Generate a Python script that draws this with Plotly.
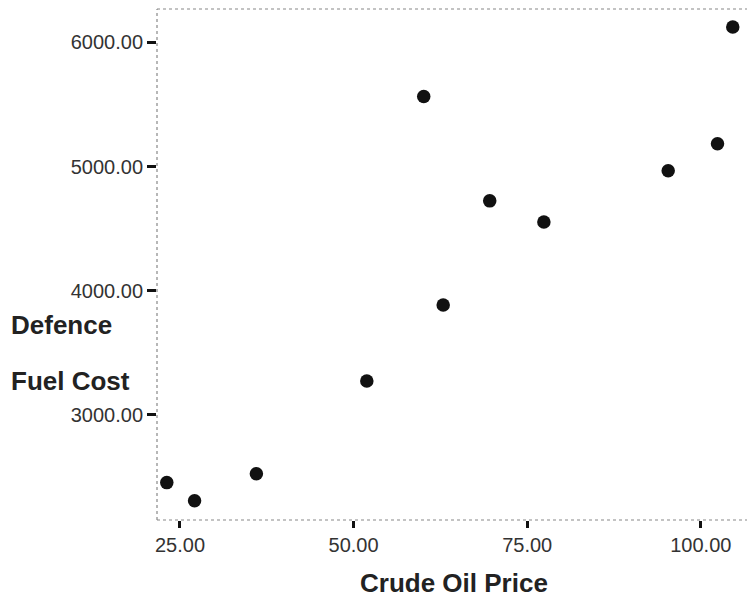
import plotly.graph_objects as go

crude_oil_price = [23.1, 27.1, 36.0, 51.9, 60.1, 62.9, 69.6, 77.4, 95.3, 102.4, 104.6]
defence_fuel_cost = [2455, 2309, 2527, 3274, 5565, 3886, 4724, 4553, 4966, 5184, 6124]

x_ticks = [25, 50, 75, 100]
x_tick_labels = ["25.00", "50.00", "75.00", "100.00"]
y_ticks = [3000, 4000, 5000, 6000]
y_tick_labels = ["3000.00", "4000.00", "5000.00", "6000.00"]

fig = go.Figure()
fig.add_trace(go.Scatter(
    x=crude_oil_price, y=defence_fuel_cost, mode="markers",
    marker=dict(size=13.5, color="#111111", line=dict(width=0)),
    showlegend=False, hoverinfo="x+y",
))

fig.update_layout(
    width=747, height=592,
    margin=dict(l=149, r=0, t=1, b=80),
    paper_bgcolor="white", plot_bgcolor="white",
    font=dict(family="Liberation Sans, Arial, sans-serif", color="#333333"),
    xaxis=dict(
        range=[21.69, 107.8], tickmode="array", tickvals=x_ticks, ticktext=x_tick_labels,
        ticks="outside", ticklen=7, tickwidth=3, tickcolor="#111111",
        tickfont=dict(size=20, color="#333333"),
        showgrid=False, zeroline=False, showline=False,
    ),
    yaxis=dict(
        range=[2154, 6269], tickmode="array", tickvals=y_ticks, ticktext=y_tick_labels,
        ticks="outside", ticklen=9, tickwidth=3, tickcolor="#111111",
        tickfont=dict(size=20, color="#333333"),
        showgrid=False, zeroline=False, showline=False,
    ),
    shapes=[
        dict(type="line", xref="paper", yref="paper", x0=0, x1=0, y0=0, y1=1,
             line=dict(color="#888888", width=1.2, dash="dot")),
        dict(type="line", xref="paper", yref="paper", x0=0, x1=1, y0=1, y1=1,
             line=dict(color="#888888", width=1.2, dash="dot")),
        dict(type="line", xref="paper", yref="paper", x0=0, x1=1, y0=0, y1=0,
             line=dict(color="#888888", width=1.2, dash="dot")),
    ],
    annotations=[
        dict(text="<b>Defence</b>", xref="paper", yref="paper",
             x=-148/598, y=(520-325)/511, xanchor="left", yanchor="middle",
             showarrow=False, font=dict(size=26, color="#222222")),
        dict(text="<b>Fuel Cost</b>", xref="paper", yref="paper",
             x=-148/598, y=(520-381)/511, xanchor="left", yanchor="middle",
             showarrow=False, font=dict(size=26, color="#222222")),
        dict(text="<b>Crude Oil Price</b>", xref="paper", yref="paper",
             x=(454-157)/598, y=(520-583)/511, xanchor="center", yanchor="middle",
             showarrow=False, font=dict(size=26, color="#222222")),
    ],
)

fig.write_html("out.html")
